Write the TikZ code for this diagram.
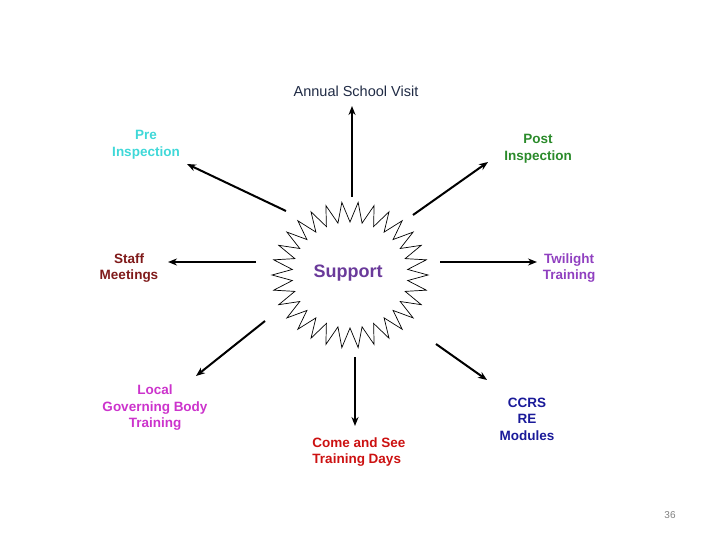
\documentclass[tikz,border=0pt]{standalone}
\usepackage{fontspec}
\setmainfont{Liberation Sans}
\usetikzlibrary{arrows.meta}
\definecolor{cpre}{HTML}{3FD8D8}
\definecolor{cpost}{HTML}{2A8A2A}
\definecolor{cstaff}{HTML}{7F1A1A}
\definecolor{ctwi}{HTML}{9040C0}
\definecolor{clocal}{HTML}{CC33CC}
\definecolor{ccome}{HTML}{CC1111}
\definecolor{cccrs}{HTML}{1A1A99}
\definecolor{cann}{HTML}{1F2A44}
\definecolor{csup}{HTML}{6A3A9A}
\begin{document}
\begin{tikzpicture}[x=1pt,y=-1pt,
  lbl/.style={font=\fontsize{13.5}{16.5}\selectfont\bfseries, align=center, inner sep=0pt},
  arr/.style={line width=2pt, -{Stealth[length=9pt,width=7pt]}}]
\useasboundingbox (0,0) rectangle (720,540);
% starburst
\draw[line width=0.7pt, line join=miter]
  plot[samples=60, domain=0:59, variable=\i]
  ({350 + (mod(\i,2)==0 ? 78 : 58)*cos(\i*6)}, {275 + (mod(\i,2)==0 ? 73 : 53)*sin(\i*6)}) -- cycle;
\node[font=\fontsize{18}{20}\selectfont\bfseries, text=csup] (sup) at (348,273) {Support};
% labels
\node[font=\fontsize{14.5}{16}\selectfont, text=cann, inner sep=0pt] (ann) at (356,91) {Annual School Visit};
\node[lbl, text=cpre] (pre) at (146,145) {Pre\\Inspection};
\node[lbl, text=cpost] (post) at (538,149) {Post\\Inspection};
\node[lbl, text=cstaff] (staff) at (129,268) {Staff\\Meetings};
\node[lbl, text=ctwi] (twi) at (569,268) {Twilight\\Training};
\node[lbl, text=clocal] (local) at (155,408) {Local\\Governing Body\\Training};
\node[lbl, text=ccome, align=left] (come) at (359,452) {Come and See\\Training Days};
\node[lbl, text=cccrs] (ccrs) at (527,419) {CCRS\\RE\\Modules};
\node[font=\fontsize{10}{11}\selectfont, text=gray, inner sep=0pt] (num) at (670,515) {36};
% connector end points
\coordinate (s1) at (352,197); \coordinate (e1) at (352,106);
\coordinate (s2) at (286,211); \coordinate (e2) at (187,164);
\coordinate (s3) at (413,215); \coordinate (e3) at (488,162);
\coordinate (s4) at (256,262); \coordinate (e4) at (168,262);
\coordinate (s5) at (440,262); \coordinate (e5) at (537,262);
\coordinate (s6) at (265,321); \coordinate (e6) at (196,376);
\coordinate (s7) at (355,357); \coordinate (e7) at (355,426);
\coordinate (s8) at (436,344); \coordinate (e8) at (487,380);
\foreach \k in {1,...,8} \draw[arr] (s\k) -- (e\k);
\end{tikzpicture}
\end{document}
